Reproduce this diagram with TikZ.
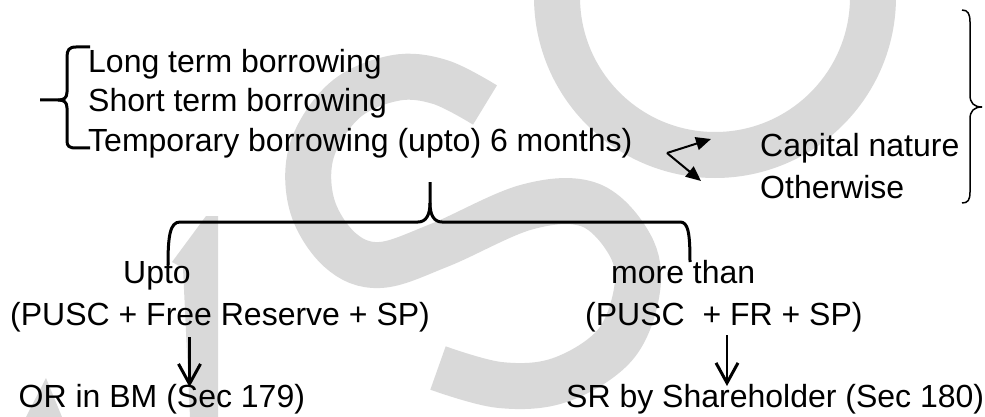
\documentclass[tikz,border=0pt]{standalone}
\usepackage{fontspec}
\setmainfont{Liberation Sans}
\usetikzlibrary{arrows.meta}
\begin{document}
\begin{tikzpicture}[x=1pt,y=-1pt,
  txt/.style={anchor=base west, inner sep=0pt, font=\fontsize{32}{38}\selectfont},
  wm/.style={draw=black!15, line width=46pt},
  wmfill/.style={fill=black!15},
  brace/.style={line width=3pt, line join=round},
  thinbrace/.style={line width=1.5pt, line join=round},
  down/.style={line width=2.5pt, -{Straight Barb[length=20pt,width=22pt,line width=3pt]}},
  split/.style={line width=2pt, -{Triangle[length=15pt,width=13pt]}}]
\useasboundingbox (0,0) rectangle (985,417);
% watermark
\begin{scope}
\clip (0,0) rectangle (985,417);
\draw[wm] (715,-3) circle[radius=158pt];
\draw[wm] plot[smooth, tension=0.6] coordinates {(485,105) (440,82) (395,78) (345,100) (312,150) (312,205) (340,250) (380,265) (440,245) (527,207) (590,205) (630,245) (637,290) (615,345) (560,380) (500,385) (438,368)};
\fill[wmfill] (206,216) -- (218,216) -- (218,417) -- (190,417) -- (183,268) -- (172,262) -- cycle;
\fill[wmfill] (26,417) -- (46,378) -- (62,417) -- cycle;
\end{scope}
% texts
\node[txt] (l1) at (88,73) {Long term borrowing};
\node[txt] (l2) at (88,112) {Short term borrowing};
\node[txt] (l3) at (88,151) {Temporary borrowing (upto) 6 months)};
\node[txt] (cap) at (760,157) {Capital nature};
\node[txt] (oth) at (760,198) {Otherwise};
\node[txt] (upto) at (123,283) {Upto};
\node[txt] (p1) at (10,325) {(PUSC + Free Reserve + SP)};
\node[txt] (or) at (18.5,407) {OR in BM (Sec 179)};
\node[txt] (more) at (611,283) {more than};
\node[txt] (p2) at (585,325) {(PUSC\ \ + FR + SP)};
\node[txt] (sr) at (566,407) {SR by Shareholder (Sec 180)};
% left brace
\draw[brace] (90,47) -- (76,47) .. controls (69,47) and (67,50) .. (67,57) -- (67,92)
  .. controls (67,98) and (64,100) .. (58,100) -- (40,100);
\draw[brace] (58,100) .. controls (64,100) and (67,102) .. (67,108) -- (67,141)
  .. controls (67,146) and (69,148) .. (76,148) -- (90,148);
% right brace
\draw[thinbrace] (962,10) .. controls (968,10) and (970,14) .. (970,22) -- (970,95)
  .. controls (970,103) and (974,107) .. (982,107);
\draw[thinbrace] (982,107) .. controls (974,107) and (970,111) .. (970,119) -- (970,192)
  .. controls (970,200) and (968,203) .. (962,203);
% big brace
\draw[brace] (168,265) .. controls (168,236) and (170,222) .. (180,222) -- (418,222)
  .. controls (426,222) and (430,215) .. (430,203) -- (430,182);
\draw[brace] (430,203) .. controls (430,215) and (434,222) .. (442,222) -- (680,222)
  .. controls (688,222) and (690,232) .. (690,262);
% split arrows
\coordinate (sp) at (667,153);
\coordinate (spa) at (711,139);
\coordinate (spb) at (701,181);
\draw[split] (sp) -- (spa);
\draw[split] (sp) -- (spb);
% down arrows
\coordinate (d1s) at (189.5,337);
\coordinate (d1e) at (189.5,387);
\coordinate (d2s) at (727,335);
\coordinate (d2e) at (727,386);
\draw[down] (d1s) -- (d1e);
\draw[down] (d2s) -- (d2e);
\end{tikzpicture}
\end{document}
